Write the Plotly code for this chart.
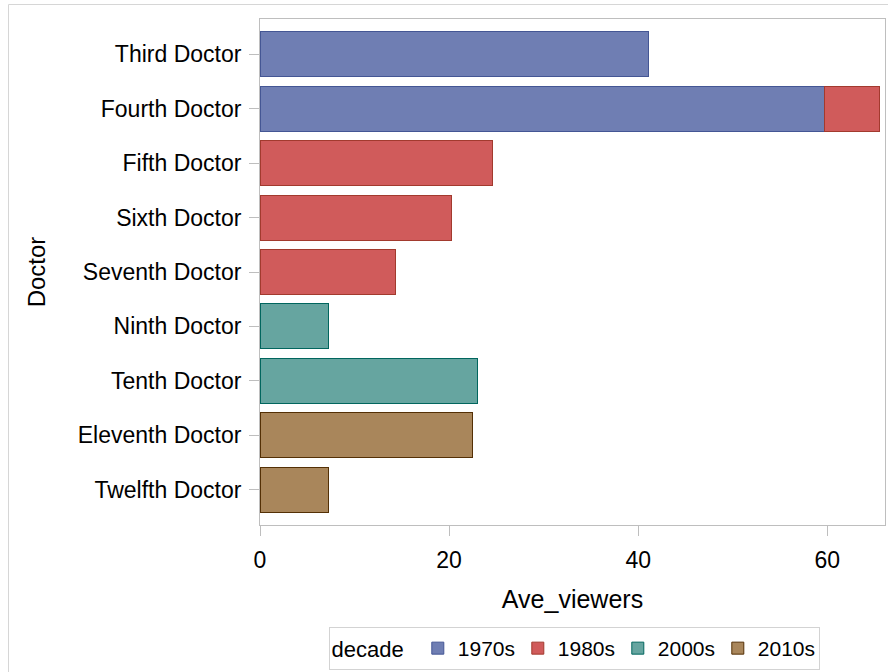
import plotly.graph_objects as go

doctors = ["Third Doctor", "Fourth Doctor", "Fifth Doctor", "Sixth Doctor",
           "Seventh Doctor", "Ninth Doctor", "Tenth Doctor", "Eleventh Doctor",
           "Twelfth Doctor"]

decades = ["1970s", "1980s", "2000s", "2010s"]

doctors_1970s = ["Third Doctor", "Fourth Doctor"]
viewers_1970s = [41.1, 59.7]

doctors_1980s = ["Fourth Doctor", "Fifth Doctor", "Sixth Doctor", "Seventh Doctor"]
viewers_1980s = [5.8, 24.6, 20.3, 14.35]

doctors_2000s = ["Ninth Doctor", "Tenth Doctor"]
viewers_2000s = [7.2, 23.0]

doctors_2010s = ["Eleventh Doctor", "Twelfth Doctor"]
viewers_2010s = [22.5, 7.2]

fills = ["#6F7EB3", "#D05B5B", "#66A5A0", "#A9865B"]
lines = ["#445694", "#A23A2E", "#01665E", "#543005"]

series = [(doctors_1970s, viewers_1970s), (doctors_1980s, viewers_1980s),
          (doctors_2000s, viewers_2000s), (doctors_2010s, viewers_2010s)]

fig = go.Figure()
for name, (ys, xs), fc, lc in zip(decades, series, fills, lines):
    fig.add_trace(go.Bar(
        x=xs, y=ys, name=name, orientation="h",
        marker=dict(color=fc, line=dict(color=lc, width=1)),
    ))

font_family = "Liberation Sans, Arial, sans-serif"
axis_gray = "#BEBEBE"

W, H = 888, 672
L, T, R, B = 260, 19, 3, 147
pw, ph = W - L - R, H - T - B

fig.update_layout(
    width=W, height=H,
    barmode="stack",
    bargap=0.17,
    paper_bgcolor="white",
    plot_bgcolor="white",
    margin=dict(l=L, r=R, t=T, b=B, autoexpand=False),
    font=dict(family=font_family, size=21, color="black"),
    xaxis=dict(
        range=[0, 66.1],
        tickvals=[0, 20, 40, 60],
        ticks="outside", ticklen=10, tickcolor=axis_gray, tickwidth=1,
        showline=True, linecolor=axis_gray, linewidth=1, mirror=True,
        showgrid=False, zeroline=False,
        tickfont=dict(size=23),
        ticklabelstandoff=4,
        title=dict(text="Ave_viewers", font=dict(size=25), standoff=18),
    ),
    yaxis=dict(
        categoryorder="array", categoryarray=doctors,
        range=[8.65, -0.65],
        ticks="outside", ticklen=10, tickcolor=axis_gray, tickwidth=1,
        showline=True, linecolor=axis_gray, linewidth=1, mirror=True,
        showgrid=False, zeroline=False,
        tickfont=dict(size=23),
        ticklabelstandoff=3,
        title=dict(text="Doctor", font=dict(size=24), standoff=25),
    ),
    legend=dict(
        orientation="h",
        x=(574 - L) / pw, xanchor="center",
        y=-(627 - (H - B)) / ph, yanchor="top",
        title=dict(text="decade ", font=dict(size=22)),
        font=dict(size=21),
        bordercolor="#D3D3D3", borderwidth=1,
        itemwidth=30,
        entrywidth=55, entrywidthmode="pixels",
        traceorder="normal",
    ),
    showlegend=True,
)

fig.add_shape(type="rect", xref="paper", yref="paper",
              x0=(8.5 - L) / pw, x1=(W + 20 - L) / pw,
              y0=-(B + 20) / ph, y1=1 + (T - 4.5) / ph,
              line=dict(color="#D6D6D6", width=1), fillcolor="rgba(0,0,0,0)",
              layer="below")

fig.write_html(
    "out.html",
    config={"displayModeBar": False},
    post_script="document.body.style.margin='0';document.body.style.overflow='hidden';",
)
